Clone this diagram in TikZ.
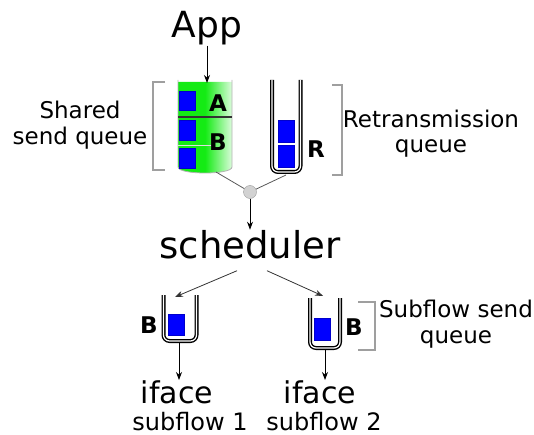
\documentclass[tikz,border=0pt]{standalone}
\usepackage{fontspec}
\setmainfont{DejaVu Sans}
\usetikzlibrary{arrows.meta,positioning,calc}
\definecolor{qgreen}{RGB}{20,235,20}
\definecolor{qblue}{RGB}{0,0,255}
\tikzset{
  lbl/.style={inner sep=0pt, anchor=base},
  note/.style={inner sep=0pt, align=center, font=\fontsize{23}{26}\selectfont},
  qname/.style={inner sep=0pt, anchor=base, font=\fontsize{23}{23}\selectfont\bfseries},
  pkt/.style={fill=qblue, draw=qblue!80!black, line width=0.4pt},
  wall/.style={draw=black, line width=1.4pt, double=white, double distance=1.2pt, rounded corners=6pt},
  brk/.style={draw=gray!75, line width=1.2pt},
  arr/.style={-{Stealth[length=8pt,width=6pt]}, line width=0.8pt},
  link/.style={draw=black!65, line width=0.8pt},
}

\begin{document}
\begin{tikzpicture}[x=1pt, y=-1pt]
  \useasboundingbox (0,0) rectangle (534,435);
  % shared send queue
  \shade[left color=qgreen, right color=white!85!qgreen, middle color=qgreen] (178,82) -- (178,167) .. controls (178,175) and (232,175) .. (232,167) -- (232,82) -- cycle;
  \draw[gray!60, line width=0.8pt] (178,80) -- (178,167) .. controls (178,175) and (232,175) .. (232,167) -- (232,80);
  \draw[black!80, line width=1.5pt] (178,117) -- (232,117);
  \draw[white!75!gray, line width=1pt] (178,146) -- (212,146);
  \fill[pkt] (179,91) rectangle (195,110);
  \fill[pkt] (179,120) rectangle (195,140);
  \fill[pkt] (179,148) rectangle (195,168);
  \node[qname] (qa) at (218,112) {A};
  \node[qname] (qb) at (218,151) {B};
  \coordinate (sqin) at (207,83);
  \coordinate (sqout) at (216,172);
  % retransmission queue
  \draw[wall] (272,80) -- (272,172) -- (300.5,172) -- (300.5,80);
  \fill[pkt] (278,120) rectangle (294,142);
  \fill[pkt] (278,145) rectangle (294,167);
  \node[qname] (qr) at (316,158) {R};
  \coordinate (rqout) at (286,175);
  % brackets
  \draw[brk] (165,82) -- (153,82) -- (153,170) -- (165,170);
  \draw[brk] (332,85) -- (342,85) -- (342,175) -- (332,175);
  \draw[brk] (358,302) -- (375,302) -- (375,350) -- (358,350);
  \node[note] (sharednote) at (80,125.5) {Shared\\send queue};
  \node[note, font=\fontsize{23}{25}\selectfont] (retxnote) at (431,134) {Retransmission\\queue};
  \node[note] (subnote) at (456,324.5) {Subflow send\\queue};
  % app and scheduler
  \node[lbl, font=\fontsize{36}{36}\selectfont] (app) at (207,38) {App};
  \node[circle, draw=gray!80, fill=gray!35, minimum size=13pt, inner sep=0pt] (junc) at (250,192) {};
  \node[lbl, font=\fontsize{37}{37}\selectfont] (sched) at (250,258) {scheduler};
  % subflow send queues
  \draw[wall] (163.5,295) -- (163.5,341) -- (196.5,341) -- (196.5,295);
  \fill[pkt] (168,314) rectangle (184,335);
  \node[qname] (qb1) at (149,333) {B};
  \coordinate (q1in) at (175,297);
  \coordinate (q1out) at (179,343);
  \draw[wall] (310,298) -- (310,348) -- (340,348) -- (340,298);
  \fill[pkt] (314,318) rectangle (330,340);
  \node[qname] (qb2) at (354,335) {B};
  \coordinate (q2in) at (323,296);
  \coordinate (q2out) at (325,350);
  % interfaces
  \node[lbl, font=\fontsize{30}{30}\selectfont] (iface1) at (177,403) {iface};
  \node[lbl, font=\fontsize{30}{30}\selectfont] (iface2) at (320,403) {iface};
  \node[lbl, font=\fontsize{24}{24}\selectfont] (sf1) at (190,430) {subflow 1};
  \node[lbl, font=\fontsize{24}{24}\selectfont] (sf2) at (324,430) {subflow 2};
  % connectors
  \draw[arr] (app) -- (sqin);
  \draw[link] (sqout) -- (junc);
  \draw[link] (rqout) -- (junc);
  \draw[arr] (junc) -- (sched);
  \draw[arr, black!80] ($(sched.south)+(-13,12)$) -- (q1in);
  \draw[arr, black!80] ($(sched.south)+(17,12)$) -- (q2in);
  \draw[arr] (q1out) -- (q1out |- iface1.north);
  \draw[arr] (q2out) -- (q2out |- iface2.north);
\end{tikzpicture}
\end{document}
